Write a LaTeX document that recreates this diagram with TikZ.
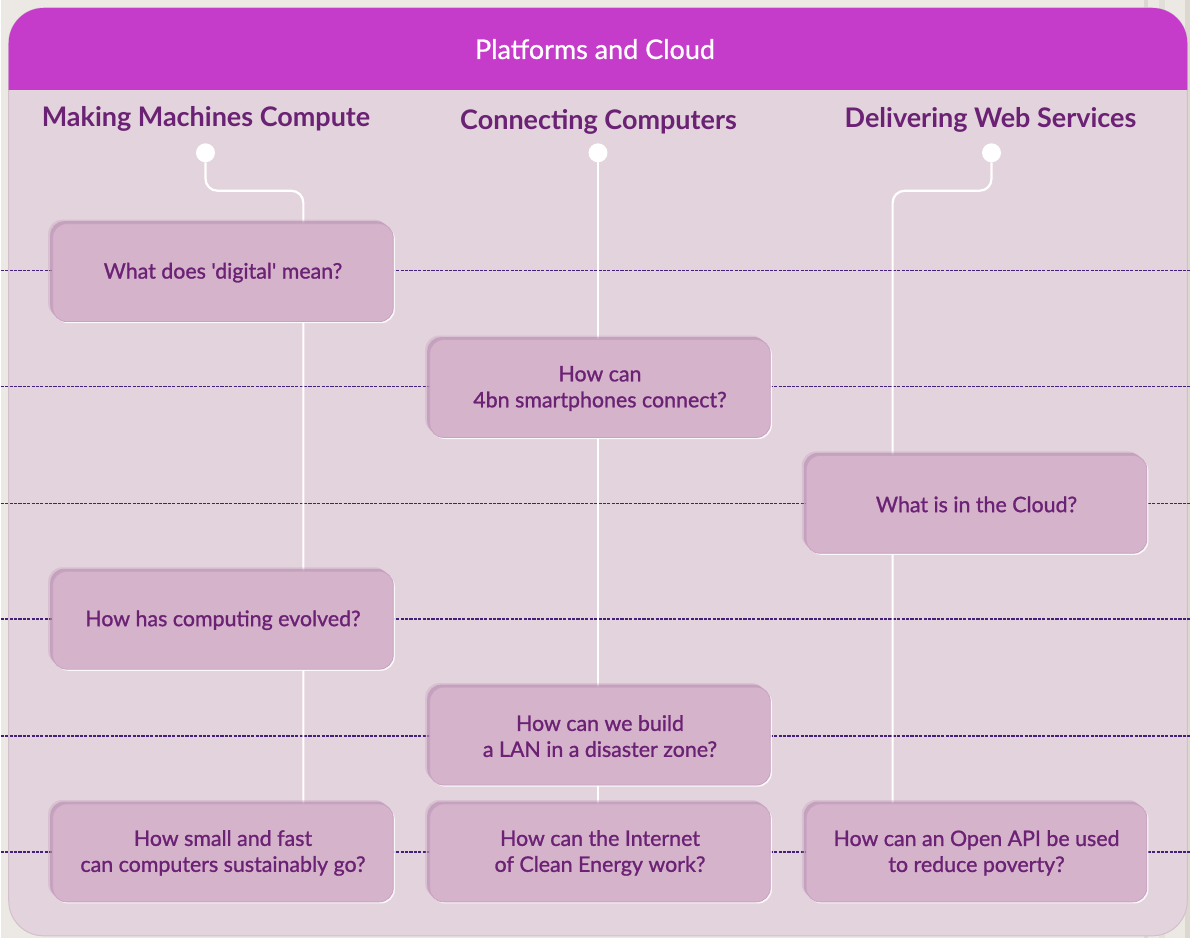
\documentclass[tikz,border=0pt]{standalone}
\usepackage{fontspec}
\setmainfont{Lato}
\newfontfamily\boxfont{Lato}[FakeBold=1.1]
\newfontfamily\headfont{Lato}[FakeBold=0.8]
\usetikzlibrary{shadows}
\pgfdeclarelayer{bg}
\pgfdeclarelayer{lines}
\pgfsetlayers{bg,lines,main}
\definecolor{bgout}{HTML}{ECE9E4}
\definecolor{stripe}{HTML}{DCD8D0}
\definecolor{panel}{HTML}{E3D3DC}
\definecolor{panelborder}{HTML}{D2C0CC}
\definecolor{header}{HTML}{C63CCA}
\definecolor{boxfill}{HTML}{D5B3CB}
\definecolor{boxedge}{HTML}{C9A2C2}
\definecolor{boxshade}{HTML}{B88DB1}
\definecolor{txt}{HTML}{6B2174}
\definecolor{dotc}{HTML}{45207A}
\tikzset{
  coltitle/.style={text=txt, font=\bfseries\fontsize{27}{32}\selectfont, inner sep=0, anchor=base},
  headtext/.style={text=white, font=\headfont\fontsize{27}{32}\selectfont, inner sep=0, anchor=base},
  dotnode/.style={circle, fill=white, inner sep=0, minimum size=19},
  qbox/.style={rounded corners=14, minimum width=341, minimum height=98,
    fill=boxfill, draw=boxedge, line width=0.8, text=txt, align=center,
    font=\boxfont\fontsize{21.4}{26}\selectfont,
    general shadow={shadow xshift=-4.5pt, shadow yshift=4pt, fill=boxshade, opacity=.25},
    general shadow={shadow xshift=-2.5pt, shadow yshift=2.5pt, fill=boxshade, opacity=.6},
    general shadow={shadow xshift=1.6pt, shadow yshift=-1.6pt, fill=white, opacity=.85}},
  dotline/.style={draw=dotc, line width=1.5, dash pattern=on 3.2pt off 1.2pt},
  vline/.style={draw=white, line width=2.2, rounded corners=12}
}
\begin{document}
\begin{tikzpicture}[x=1pt,y=-1pt]
\begin{pgfonlayer}{bg}
  \fill[bgout] (0,0) rectangle (1191,939);
  \useasboundingbox (0,0) rectangle (1191,939);
  \fill[stripe] (1145,0) rectangle (1149,939);
  \fill[stripe!60!bgout] (1160,0) rectangle (1166,939);
  \fill[stripe] (1186,0) rectangle (1191,939);
  \filldraw[fill=panel, draw=panelborder, line width=1, rounded corners=35] (8,8) rectangle (1188,937);
  \begin{scope}
    \clip (0,0) rectangle (1191,90);
    \fill[header, rounded corners=35] (8,8) rectangle (1188,937);
  \end{scope}
\end{pgfonlayer}

\node[headtext] (head) at (595,59) {Platforms and Cloud};

\node[coltitle] (t1) at (205.5,127) {Making Machines Compute};
\node[coltitle] (t2) at (598.5,130) {Connecting Computers};
\node[coltitle] (t3) at (991,128) {Delivering Web Services};

\node[dotnode] (c1) at (205,153) {};
\node[dotnode] (c2) at (598,153) {};
\node[dotnode] (c3) at (992,153) {};

\node[qbox] (q1) at (222.5,273) {What does 'digital' mean?};
\node[qbox] (q2) at (600,389) {How can\\4bn smartphones connect?};
\node[qbox] (q3) at (977,505) {What is in the Cloud?};
\node[qbox] (q4) at (222.5,621) {How has computing evolved?};
\node[qbox] (q5) at (600,737) {How can we build\\a LAN in a disaster zone?};
\node[qbox] (q6) at (222.5,854) {How small and fast\\can computers sustainably go?};
\node[qbox] (q7) at (600,854) {How can the Internet\\of Clean Energy work?};
\node[qbox] (q8) at (977,854) {How can an Open API be used\\to reduce poverty?};

\coordinate (l1) at (0,271);   \coordinate (r1) at (1191,271);
\coordinate (l2) at (0,387);   \coordinate (r2) at (1191,387);
\coordinate (l3) at (0,504);   \coordinate (r3) at (1191,504);
\coordinate (l4) at (0,620);   \coordinate (r4) at (1191,620);
\coordinate (l5) at (0,737);   \coordinate (r5) at (1191,737);
\coordinate (l6) at (0,853);   \coordinate (r6) at (1191,853);
\coordinate (k1a) at (205,191); \coordinate (k1b) at (303,191);
\coordinate (k3a) at (992,191); \coordinate (k3b) at (893,191);

\begin{pgfonlayer}{lines}
  \foreach \i in {1,...,6} { \draw[dotline] (l\i) -- (r\i); }
  \draw[vline] (c1) -- (k1a) -- (k1b) -- (k1b |- q6.north);
  \draw[vline] (c2) -- (c2 |- q7.north);
  \draw[vline] (c3) -- (k3a) -- (k3b) -- (k3b |- q8.north);
\end{pgfonlayer}
\end{tikzpicture}
\end{document}
